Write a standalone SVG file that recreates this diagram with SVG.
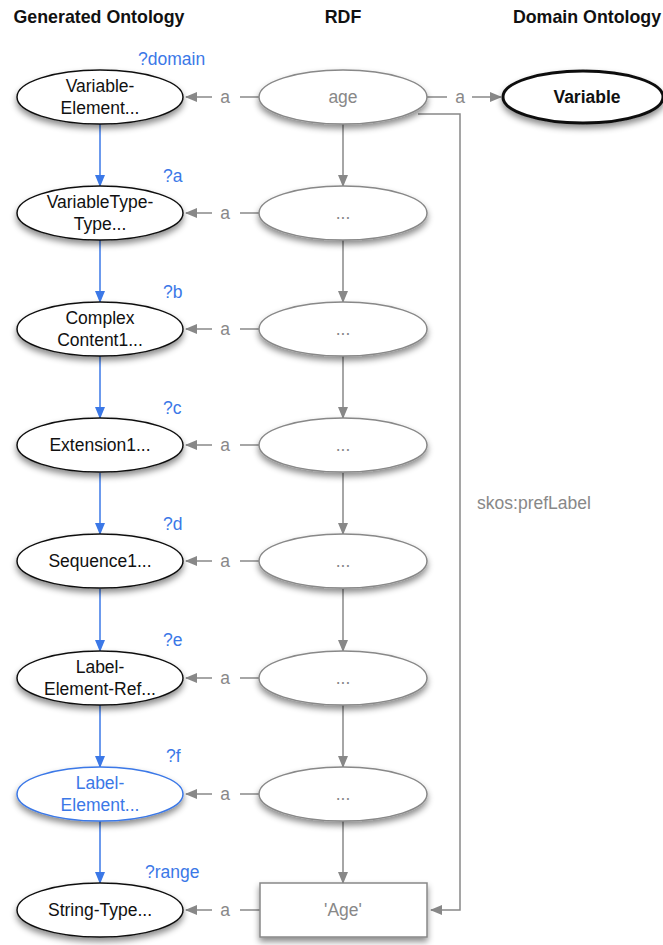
<svg xmlns="http://www.w3.org/2000/svg" width="663" height="945" viewBox="0 0 663 945">
<style>
.hdr{font-family:"Liberation Sans",Arial,sans-serif;font-weight:bold;font-size:17.8px;fill:#111;text-anchor:middle}
.t{font-family:"Liberation Sans",Arial,sans-serif;font-size:17.5px;fill:#111;text-anchor:middle}
.g{font-family:"Liberation Sans",Arial,sans-serif;font-size:17.5px;fill:#888;text-anchor:middle}
.q{font-family:"Liberation Sans",Arial,sans-serif;font-size:17.5px;fill:#3b78e7}
.bt{font-family:"Liberation Sans",Arial,sans-serif;font-size:17.5px;fill:#3b78e7;text-anchor:middle}
.lo{fill:#fff;stroke:#111;stroke-width:1.5;filter:url(#sh)}
.ro{fill:#fff;stroke:#888;stroke-width:1.5;filter:url(#sh)}
.bl{stroke:#3b78e7;stroke-width:1.5;fill:none}
.gr{stroke:#888;stroke-width:1.5;fill:none}
</style>
<defs>
<filter id="sh" x="-20%" y="-30%" width="140%" height="170%">
<feDropShadow dx="0" dy="4" stdDeviation="3" flood-color="#000" flood-opacity="0.45"/>
</filter>
<marker id="ab" markerWidth="12" markerHeight="10" refX="11" refY="5" orient="auto" markerUnits="userSpaceOnUse">
<path d="M0,0 L12,5 L0,10 Z" fill="#3b78e7"/>
</marker>
<marker id="ag" markerWidth="12" markerHeight="10" refX="11" refY="5" orient="auto" markerUnits="userSpaceOnUse">
<path d="M0,0 L12,5 L0,10 Z" fill="#888"/>
</marker>
</defs>
<rect width="663" height="945" fill="#fff"/>
<text class="hdr" x="99" y="23">Generated Ontology</text>
<text class="hdr" x="343" y="23">RDF</text>
<text class="hdr" x="587" y="23">Domain Ontology</text>

<g id="connectors">
<line class="bl" x1="100" y1="124" x2="100" y2="186" marker-end="url(#ab)"/>
<line class="bl" x1="100" y1="240" x2="100" y2="302" marker-end="url(#ab)"/>
<line class="bl" x1="100" y1="356" x2="100" y2="418" marker-end="url(#ab)"/>
<line class="bl" x1="100" y1="473" x2="100" y2="534" marker-end="url(#ab)"/>
<line class="bl" x1="100" y1="589" x2="100" y2="651" marker-end="url(#ab)"/>
<line class="bl" x1="100" y1="705" x2="100" y2="767" marker-end="url(#ab)"/>
<line class="bl" x1="100" y1="821" x2="100" y2="883" marker-end="url(#ab)"/>
<line class="gr" x1="343" y1="124" x2="343" y2="186" marker-end="url(#ag)"/>
<line class="gr" x1="343" y1="240" x2="343" y2="302" marker-end="url(#ag)"/>
<line class="gr" x1="343" y1="356" x2="343" y2="418" marker-end="url(#ag)"/>
<line class="gr" x1="343" y1="473" x2="343" y2="534" marker-end="url(#ag)"/>
<line class="gr" x1="343" y1="589" x2="343" y2="651" marker-end="url(#ag)"/>
<line class="gr" x1="343" y1="705" x2="343" y2="767" marker-end="url(#ag)"/>
<line class="gr" x1="343" y1="821" x2="343" y2="883" marker-end="url(#ag)"/>
<g>
<line class="gr" x1="259" y1="97" x2="240" y2="97"/><text class="g" x="225" y="103">a</text><line class="gr" x1="212" y1="97" x2="186" y2="97" marker-end="url(#ag)"/>
<line class="gr" x1="259" y1="213" x2="240" y2="213"/><text class="g" x="225" y="219">a</text><line class="gr" x1="212" y1="213" x2="186" y2="213" marker-end="url(#ag)"/>
<line class="gr" x1="259" y1="329" x2="240" y2="329"/><text class="g" x="225" y="335">a</text><line class="gr" x1="212" y1="329" x2="186" y2="329" marker-end="url(#ag)"/>
<line class="gr" x1="259" y1="445" x2="240" y2="445"/><text class="g" x="225" y="451">a</text><line class="gr" x1="212" y1="445" x2="186" y2="445" marker-end="url(#ag)"/>
<line class="gr" x1="259" y1="561" x2="240" y2="561"/><text class="g" x="225" y="567">a</text><line class="gr" x1="212" y1="561" x2="186" y2="561" marker-end="url(#ag)"/>
<line class="gr" x1="259" y1="678" x2="240" y2="678"/><text class="g" x="225" y="684">a</text><line class="gr" x1="212" y1="678" x2="186" y2="678" marker-end="url(#ag)"/>
<line class="gr" x1="259" y1="794" x2="240" y2="794"/><text class="g" x="225" y="800">a</text><line class="gr" x1="212" y1="794" x2="186" y2="794" marker-end="url(#ag)"/>
<line class="gr" x1="260" y1="910" x2="240" y2="910"/><text class="g" x="225" y="916">a</text><line class="gr" x1="212" y1="910" x2="186" y2="910" marker-end="url(#ag)"/>
<line class="gr" x1="427" y1="97" x2="447" y2="97"/><text class="g" x="460" y="103">a</text><line class="gr" x1="472" y1="97" x2="501" y2="97" marker-end="url(#ag)"/>
</g>
<polyline class="gr" points="418,114 460,114 460,910 431,910" marker-end="url(#ag)"/>
<text class="g" x="534" y="509">skos:prefLabel</text>
</g>

<text class="q" x="138" y="65">?domain</text>
<text class="q" x="163" y="182">?a</text>
<text class="q" x="163" y="298">?b</text>
<text class="q" x="163" y="414">?c</text>
<text class="q" x="163" y="530">?d</text>
<text class="q" x="163" y="646">?e</text>
<text class="q" x="166" y="762">?f</text>
<text class="q" x="145" y="878">?range</text>

<g id="n-variable-element"><ellipse class="lo" cx="100" cy="97" rx="83" ry="27"/><text class="t" x="100" y="92">Variable-</text><text class="t" x="100" y="114">Element...</text></g>
<g id="n-variabletype"><ellipse class="lo" cx="100" cy="213" rx="83" ry="27"/><text class="t" x="100" y="208">VariableType-</text><text class="t" x="100" y="230">Type...</text></g>
<g id="n-complex"><ellipse class="lo" cx="100" cy="329" rx="83" ry="27"/><text class="t" x="100" y="324">Complex</text><text class="t" x="100" y="346">Content1...</text></g>
<g id="n-extension"><ellipse class="lo" cx="100" cy="445" rx="83" ry="27"/><text class="t" x="100" y="451">Extension1...</text></g>
<g id="n-sequence"><ellipse class="lo" cx="100" cy="561" rx="83" ry="27"/><text class="t" x="100" y="567">Sequence1...</text></g>
<g id="n-label-ref"><ellipse class="lo" cx="100" cy="678" rx="83" ry="27"/><text class="t" x="100" y="673">Label-</text><text class="t" x="100" y="695">Element-Ref...</text></g>
<g id="n-label-element"><ellipse class="lo" style="stroke:#3b78e7" cx="100" cy="794" rx="83" ry="27"/><text class="bt" x="100" y="789">Label-</text><text class="bt" x="100" y="811">Element...</text></g>
<g id="n-string-type"><ellipse class="lo" cx="100" cy="910" rx="83" ry="27"/><text class="t" x="100" y="916">String-Type...</text></g>

<g id="r-age"><ellipse class="ro" cx="343" cy="97" rx="84" ry="27"/><text class="g" x="343" y="103">age</text></g>
<g id="r-1"><ellipse class="ro" cx="343" cy="213" rx="84" ry="27"/><text class="g" x="343" y="219">...</text></g>
<g id="r-2"><ellipse class="ro" cx="343" cy="329" rx="84" ry="27"/><text class="g" x="343" y="335">...</text></g>
<g id="r-3"><ellipse class="ro" cx="343" cy="445" rx="84" ry="27"/><text class="g" x="343" y="451">...</text></g>
<g id="r-4"><ellipse class="ro" cx="343" cy="561" rx="84" ry="27"/><text class="g" x="343" y="567">...</text></g>
<g id="r-5"><ellipse class="ro" cx="343" cy="678" rx="84" ry="27"/><text class="g" x="343" y="684">...</text></g>
<g id="r-6"><ellipse class="ro" cx="343" cy="794" rx="84" ry="27"/><text class="g" x="343" y="800">...</text></g>
<g id="r-age-literal"><rect class="ro" x="260" y="883" width="167" height="54"/><text class="g" x="343" y="916">'Age'</text></g>

<g id="d-variable"><ellipse class="lo" style="stroke-width:3" cx="583" cy="97" rx="80" ry="26"/><text class="t" style="font-weight:bold" x="587" y="103">Variable</text></g>
</svg>
